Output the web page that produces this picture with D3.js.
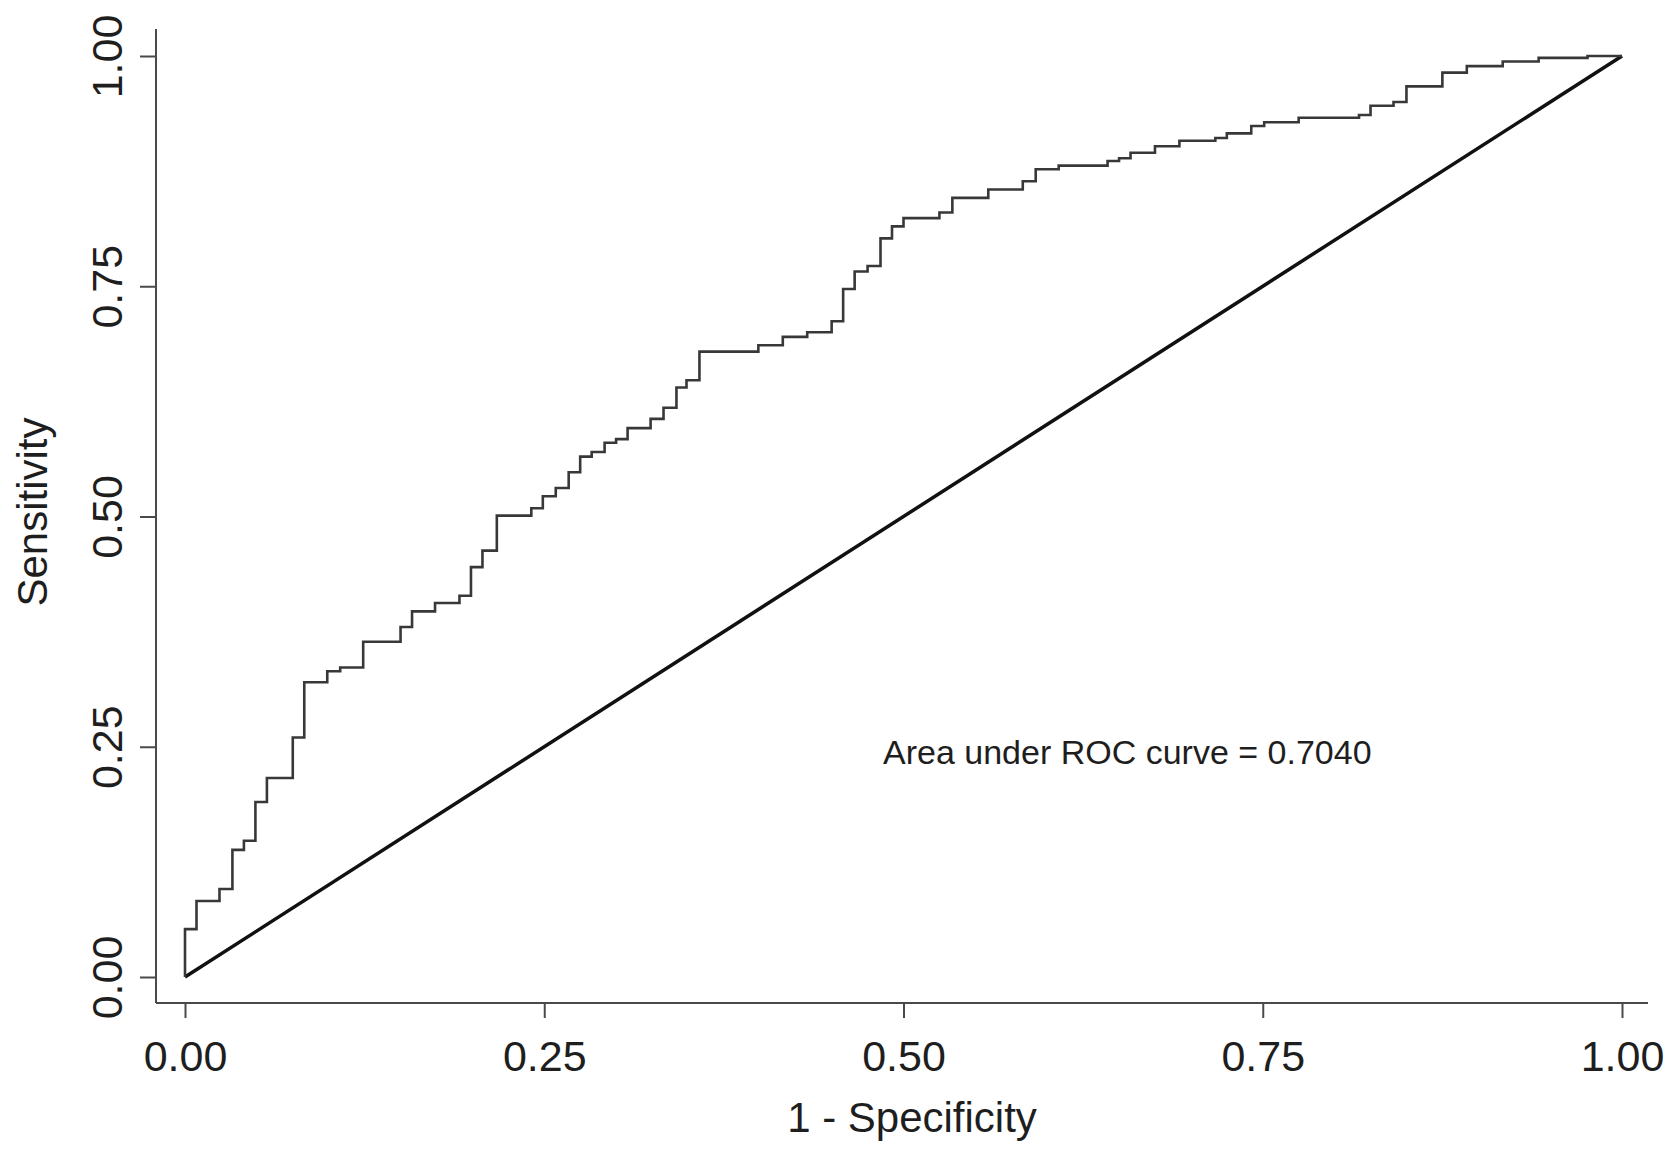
<html>

<head>
  <script src="https://d3js.org/d3.v7.min.js"></script>
  <style>
    body {
      margin: 0;
      background: white;
    }

    text {
      font-family: "Liberation Sans", Arial, sans-serif;
      fill: #1e1e1e;
    }

    .axis line {
      stroke: #4a4a4a;
      stroke-width: 2;
    }

    .axis .domain {
      stroke: none;
    }
  </style>
</head>

<body>
  <svg width="1677" height="1155" id="roc"></svg>

  <script>
    // ROC curve corners (1 - specificity, sensitivity)
    const fpr = [0, 0.008, 0.024, 0.033, 0.041, 0.049, 0.057, 0.075, 0.083, 0.099,
      0.108, 0.124, 0.150, 0.158, 0.174, 0.191, 0.199, 0.207, 0.217, 0.241,
      0.249, 0.258, 0.267, 0.275, 0.283, 0.292, 0.300, 0.308, 0.324, 0.333,
      0.342, 0.349, 0.358, 0.399, 0.416, 0.433, 0.450, 0.458, 0.466, 0.475,
      0.484, 0.492, 0.500, 0.525, 0.534, 0.559, 0.583, 0.592, 0.608, 0.642,
      0.650, 0.658, 0.675, 0.692, 0.717, 0.725, 0.742, 0.751, 0.775, 0.817,
      0.825, 0.841, 0.850, 0.875, 0.892, 0.917, 0.942, 0.976, 1.0];
    const tpr = [0, 0.052, 0.0825, 0.0955, 0.138, 0.148, 0.190, 0.216, 0.260, 0.320,
      0.332, 0.336, 0.364, 0.380, 0.397, 0.406, 0.414, 0.445, 0.463, 0.501,
      0.509, 0.522, 0.531, 0.548, 0.565, 0.570, 0.580, 0.584, 0.596, 0.606,
      0.618, 0.640, 0.648, 0.679, 0.686, 0.695, 0.700, 0.712, 0.747, 0.766,
      0.772, 0.802, 0.815, 0.824, 0.830, 0.846, 0.855, 0.864, 0.877, 0.881,
      0.886, 0.889, 0.895, 0.902, 0.908, 0.911, 0.916, 0.924, 0.928, 0.933,
      0.936, 0.946, 0.950, 0.967, 0.982, 0.989, 0.994, 0.998, 1.0];

    const xTicks = [0, 0.25, 0.5, 0.75, 1];
    const yTicks = [0, 0.25, 0.5, 0.75, 1];
    const xTitle = "1 - Specificity";
    const yTitle = "Sensitivity";
    const aucLabel = "Area under ROC curve = 0.7040";

    const svg = d3.select("#roc");

    const xScale = d3.scaleLinear().domain([0, 1]).range([185, 1622]);
    const yScale = d3.scaleLinear().domain([0, 1]).range([977, 56]);

    // axis lines (full plot region, Stata style)
    svg.append("line")
      .attr("x1", 156).attr("y1", 1003)
      .attr("x2", 1648).attr("y2", 1003)
      .attr("stroke", "#4a4a4a")
      .attr("stroke-width", 2);
    svg.append("line")
      .attr("x1", 156).attr("y1", 29)
      .attr("x2", 156).attr("y2", 1003)
      .attr("stroke", "#4a4a4a")
      .attr("stroke-width", 2);

    let bottomAxis = d3.axisBottom(xScale)
      .tickValues(xTicks)
      .tickFormat(d3.format(".2f"))
      .tickSize(15)
      .tickSizeOuter(0)
      .tickPadding(22);
    svg.append("g")
      .attr("class", "x axis")
      .attr("transform", "translate(0,1003)")
      .call(bottomAxis)
      .selectAll("text")
      .style("font-size", "43px");

    let leftAxis = d3.axisLeft(yScale)
      .tickValues(yTicks)
      .tickFormat(d3.format(".2f"))
      .tickSize(16)
      .tickSizeOuter(0);
    svg.append("g")
      .attr("class", "y axis")
      .attr("transform", "translate(156,0)")
      .call(leftAxis)
      .selectAll("text")
      .attr("x", 0)
      .attr("y", 0)
      .attr("dy", 0)
      .attr("transform", "translate(-34,0) rotate(-90)")
      .style("text-anchor", "middle")
      .style("font-size", "43px");

    // reference diagonal
    svg.append("line")
      .attr("x1", xScale(0)).attr("y1", yScale(0))
      .attr("x2", xScale(1)).attr("y2", yScale(1))
      .attr("stroke", "#111")
      .attr("stroke-width", 3.5);

    // ROC step curve
    const rocLine = d3.line()
      .x(d => xScale(d[0]))
      .y(d => yScale(d[1]))
      .curve(d3.curveStepBefore);

    svg.append("path")
      .datum(fpr.map((f, i) => [f, tpr[i]]))
      .attr("d", rocLine)
      .attr("fill", "none")
      .attr("stroke", "#383838")
      .attr("stroke-width", 2.6);

    // titles
    svg.append("text")
      .attr("x", 912)
      .attr("y", 1132)
      .style("text-anchor", "middle")
      .style("font-size", "42px")
      .text(xTitle);

    svg.append("text")
      .attr("transform", "translate(47,512) rotate(-90)")
      .style("text-anchor", "middle")
      .style("font-size", "42px")
      .text(yTitle);

    svg.append("text")
      .attr("x", 883)
      .attr("y", 764)
      .style("font-size", "34px")
      .text(aucLabel);
  </script>
</body>

</html>
